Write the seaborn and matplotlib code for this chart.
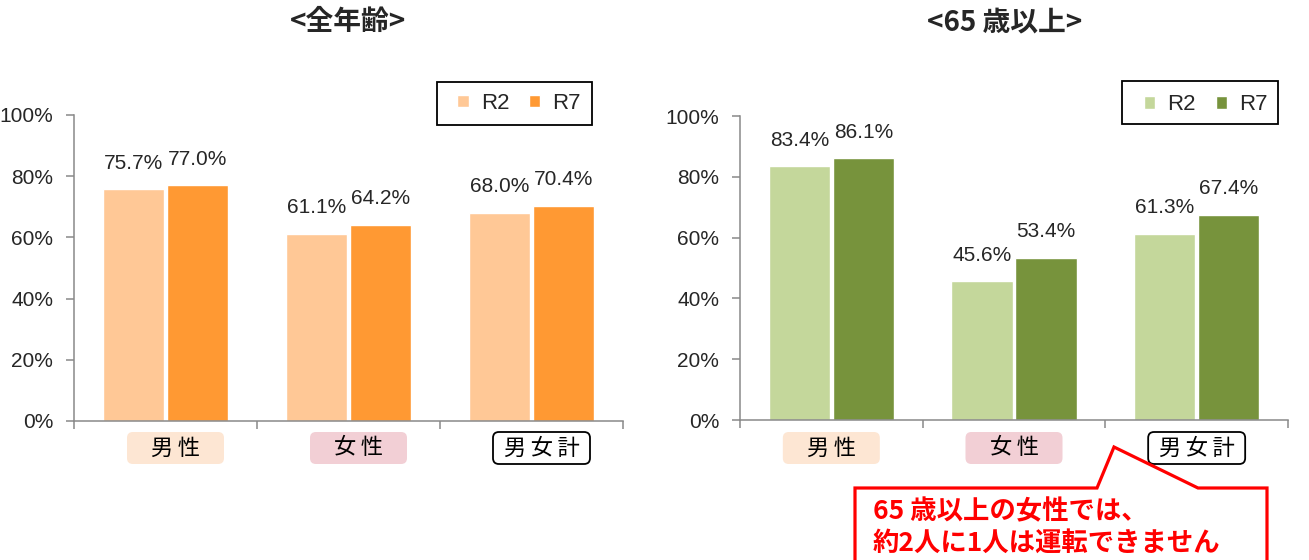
import matplotlib
matplotlib.use('Agg')
import matplotlib.pyplot as plt
import seaborn as sns
import pandas as pd
from matplotlib.patches import FancyBboxPatch, Rectangle, Polygon

# ---- data ----
categories = ['男性', '女性', '男女計']
years = ['R2', 'R7']
all_r2 = [75.7, 61.1, 68.0]
all_r7 = [77.0, 64.2, 70.4]
old_r2 = [83.4, 45.6, 61.3]
old_r7 = [86.1, 53.4, 67.4]
yticks = [0, 20, 40, 60, 80, 100]
ytick_labels = ['0%', '20%', '40%', '60%', '80%', '100%']
titles = ['<全年齢>', '<65 歳以上>']
note_lines = ['65 歳以上の女性では、', '約2人に1人は運転できません']

W, H = 1309, 560
sns.set_theme(style='white')
NUM = ['Liberation Sans Narrow', 'Liberation Sans', 'DejaVu Sans']
JP = ['Noto Sans CJK JP', 'DejaVu Sans']
plt.rcParams['font.family'] = NUM

fig = plt.figure(figsize=(W / 100, H / 100), dpi=100)


def px_axes(x0, x1, ytop, ybot):
    return fig.add_axes([x0 / W, 1 - ybot / H, (x1 - x0) / W, (ybot - ytop) / H])


def fx(x):
    return x / W


def fy(y):
    return 1 - y / H


ax1 = px_axes(74, 623, 115, 421)
ax2 = px_axes(740, 1288, 116, 420)

specs = [
    (ax1, all_r2, all_r7, ['#FFC896', '#FF9933'], (0.661, 0.9435, 0.967, 1.108), 0.811, 10),
    (ax2, old_r2, old_r7, ['#C4D79B', '#77933C'], (0.697, 0.982, 0.974, 1.115), 0.850, 0),
]

box_styles = [
    dict(fc='#FDE6D3', ec='#FDE6D3', lw=0),
    dict(fc='#F2CFD5', ec='#F2CFD5', lw=0),
    dict(fc='white', ec='black', lw=1.3),
]

for ax, r2, r7, pal, lbox, lcx, boff in specs:
    df = pd.DataFrame({
        'cat': categories * 2,
        'year': [years[0]] * len(r2) + [years[1]] * len(r7),
        'val': r2 + r7,
    })
    sns.barplot(data=df, x='cat', y='val', hue='year', order=categories,
                hue_order=years, palette=pal, saturation=1, width=0.70,
                gap=0.04, ax=ax, errorbar=None)
    for cont in ax.containers:
        ax.bar_label(cont, fmt='%.1f%%', padding=12, fontsize=15)
    ax.set_ylim(0, 100)
    ax.set_xlim(-0.5, len(categories) - 0.5)
    ax.set_yticks(yticks)
    ax.set_yticklabels(ytick_labels)
    ax.set_xticks([i - 0.5 for i in range(len(categories) + 1)])
    ax.set_xticklabels([])
    ax.set_xlabel('')
    ax.set_ylabel('')
    ax.tick_params(axis='both', direction='out', length=6, width=1.1,
                   color='#898989', labelsize=15, left=True, bottom=True)
    ax.tick_params(axis='y', pad=9)
    for s in ['top', 'right']:
        ax.spines[s].set_visible(False)
    for s in ['left', 'bottom']:
        ax.spines[s].set_color('#898989')
        ax.spines[s].set_linewidth(1.1)

    # legend
    old = ax.legend_
    handles = old.legend_handles
    labels = [t.get_text() for t in old.get_texts()]
    old.remove()
    ax.legend(handles, labels, loc='center', bbox_to_anchor=(lcx, 1.0376),
              ncol=2, frameon=False, handlelength=0.5,
              handleheight=0.5, handletextpad=0.55, columnspacing=0.9,
              prop={'family': ['Liberation Sans', 'DejaVu Sans'], 'size': 16})
    x0, x1, y0, y1 = lbox
    ax.add_patch(Rectangle((x0, y0), x1 - x0, y1 - y0, transform=ax.transAxes,
                           fill=False, ec='black', lw=1.3, clip_on=False))

    # category label boxes
    fig.canvas.draw()
    for i, cat in enumerate(categories):
        cx_disp = ax.transData.transform((i, 0))[0] + boff
        bw, bh = 97, 32
        left = cx_disp - bw / 2
        patch = FancyBboxPatch((left / W, fy(464)), bw / W, bh / H,
                               boxstyle='round,pad=0,rounding_size=0.0045',
                               mutation_aspect=W / H, transform=fig.transFigure,
                               **box_styles[i])
        fig.patches.append(patch)
        fig.text(cx_disp / W, fy(448), '\u2009'.join(cat), ha='center',
                 va='center', fontsize=16, family=JP, color='black')

# titles
fig.text(fx(348), fy(22), titles[0], ha='center', va='center', fontsize=20,
         fontweight='bold', family=JP)
fig.text(fx(1005), fy(22), titles[1], ha='center', va='center', fontsize=20,
         fontweight='bold', family=JP)

# callout
pts = [(855, 570), (855, 488), (1097, 488), (1114, 447), (1198, 488),
       (1267, 488), (1267, 570)]
fig.patches.append(Polygon([(fx(x), fy(y)) for x, y in pts], closed=False,
                           transform=fig.transFigure, fc='white', ec='#FF0000',
                           lw=2.3, joinstyle='miter'))
for line, yc in zip(note_lines, [512, 543]):
    fig.text(fx(873), fy(yc), line, ha='left', va='center', fontsize=19,
             fontweight='bold', color='#FF0000', family=JP)

fig.savefig('out.png', dpi=100)
